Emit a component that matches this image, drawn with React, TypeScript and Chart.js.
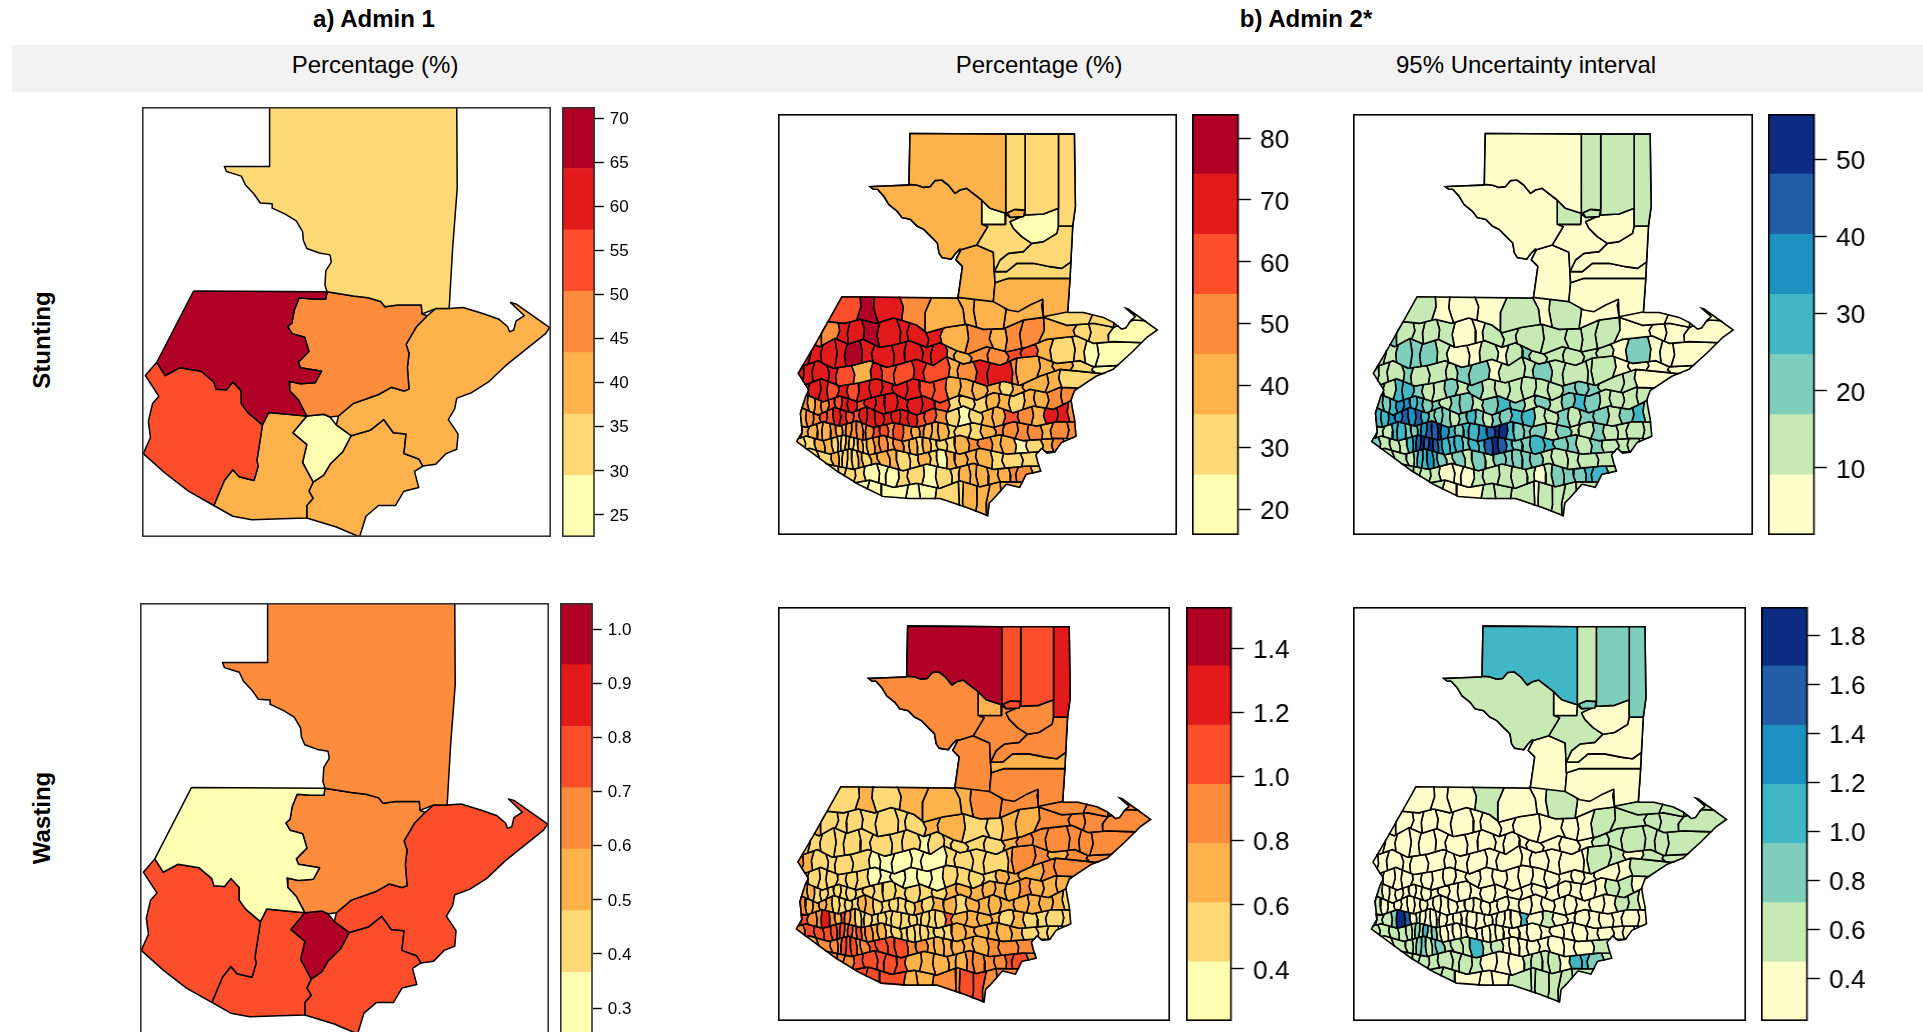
import React, { useEffect, useRef } from "react";
import { Chart, registerables } from "chart.js";
Chart.register(...registerables);

const ylOrRd = ["#FFFFB2", "#FED976", "#FEB24C", "#FD8D3C", "#FC4E2A", "#E31A1C", "#B10026"];
const ylGnBu = ["#FFFFCC", "#C7E9B4", "#7FCDBB", "#41B6C4", "#1D91C0", "#225EA8", "#0C2C84"];

// ---------- legends ----------
const breaksStuntA1 = [22.5, 29.47, 36.43, 43.4, 50.36, 57.33, 64.29, 71.26];
const breaksWasteA1 = [0.252, 0.366, 0.48, 0.594, 0.707, 0.821, 0.935, 1.049];
const breaksStuntPct = [15.85, 25.57, 35.3, 45.02, 54.74, 64.46, 74.18, 83.9];
const breaksStuntUI = [1.31, 9.11, 16.91, 24.71, 32.5, 40.3, 48.1, 55.9];
const breaksWastePct = [0.2375, 0.422, 0.607, 0.792, 0.976, 1.161, 1.346, 1.53];
const breaksWasteUI = [0.227, 0.468, 0.71, 0.951, 1.192, 1.433, 1.675, 1.916];
const ticksStuntA1 = [70, 65, 60, 55, 50, 45, 40, 35, 30, 25];
const ticksWasteA1 = [1.0, 0.9, 0.8, 0.7, 0.6, 0.5, 0.4, 0.3];
const ticksStuntPct = [80, 70, 60, 50, 40, 30, 20];
const ticksStuntUI = [50, 40, 30, 20, 10];
const ticksWastePct = [1.4, 1.2, 1.0, 0.8, 0.6, 0.4];
const ticksWasteUI = [1.8, 1.6, 1.4, 1.2, 1.0, 0.8, 0.6, 0.4];

// ---------- Admin 1 regions (map units) ----------
const a1Names = ["Norte", "Noroccidente", "Suroccidente", "Verapaz", "Nororiente", "Central", "Metropolitana", "Suroriente"];
const a1Shapes = [
  [642,302,1085,302,1086,530,1075,700,1067,865,1035,865,1003,880,1001,855,945,855,915,860,905,845,875,835,840,830,778,818,773,800,775,760,788,735,785,715,760,710,730,697,722,675,720,650,705,620,680,602,650,585,648,572,620,570,605,545,585,520,575,495,556,488,540,482,535,468,642,468],
  [462,816,778,818,775,838,745,838,712,835,700,870,695,905,685,915,695,935,725,945,735,985,710,1015,715,1030,765,1040,750,1072,715,1075,688,1068,690,1095,710,1120,730,1165,640,1155,625,1190,590,1155,575,1130,575,1095,555,1070,540,1092,515,1090,510,1070,480,1040,430,1030,395,1052,375,1015],
  [375,1015,395,1052,430,1030,480,1040,510,1070,515,1090,540,1092,555,1070,575,1095,575,1130,590,1155,625,1190,612,1290,615,1305,605,1345,570,1335,555,1315,535,1345,510,1415,450,1375,395,1325,343,1270,360,1225,355,1180,365,1130,380,1110,348,1052],
  [778,818,840,830,875,835,905,845,915,860,945,855,1001,855,1003,880,1015,885,990,915,965,965,972,990,968,1030,972,1090,960,1095,930,1085,900,1105,840,1130,805,1165,785,1168,770,1160,730,1165,710,1120,690,1095,688,1068,715,1075,750,1072,765,1040,715,1030,710,1015,735,985,725,945,695,935,685,915,695,905,700,870,712,835,745,838,775,838],
  [1067,865,1100,862,1150,880,1185,895,1205,915,1210,930,1220,925,1225,900,1245,885,1212,848,1225,852,1305,918,1295,935,1205,1020,1160,1070,1120,1100,1085,1115,1080,1145,1065,1175,1088,1215,1085,1258,1060,1270,1035,1300,1005,1305,995,1285,960,1270,965,1215,935,1212,912,1175,880,1205,835,1220,800,1190,805,1165,840,1130,900,1105,930,1085,960,1095,972,1090,968,1030,972,990,965,965,990,915,1015,885,1035,865],
  [640,1155,730,1165,697,1212,730,1245,720,1295,745,1350,735,1375,745,1395,730,1415,730,1450,670,1452,600,1455,555,1445,510,1415,535,1345,555,1315,570,1335,605,1345,615,1305,612,1290,625,1190],
  [730,1165,770,1160,785,1168,800,1190,835,1220,815,1265,785,1300,770,1330,745,1350,720,1295,730,1245,697,1212],
  [835,1220,880,1205,912,1175,935,1212,965,1215,960,1270,995,1285,1005,1305,985,1320,995,1365,960,1375,940,1415,900,1415,870,1445,855,1503,800,1475,730,1450,730,1415,745,1395,735,1375,745,1350,770,1330,785,1300,815,1265],
];
const a1Stunting = [1, 6, 4, 3, 2, 2, 0, 2];
const a1Wasting = [3, 0, 4, 3, 4, 4, 6, 4];

// ---------- Admin 2: country outline and northern municipalities (map units) ----------
const countryOutline = [448,128,737,130,945,130,948,350,940,408,932,565,925,665,970,665,1030,680,1060,695,1085,715,1095,712,1112,688,1122,680,1088,650,1105,655,1195,720,1160,745,1115,790,1060,840,1010,860,945,903,935,930,940,960,945,985,950,1040,905,1060,885,1088,860,1092,845,1078,830,1095,835,1115,845,1145,800,1155,780,1195,740,1185,705,1225,690,1240,685,1280,620,1255,540,1228,450,1228,370,1222,300,1188,230,1145,108,1055,125,1025,120,970,135,920,145,900,113,850,160,770,205,690,245,618,592,622,605,530,585,510,600,480,590,490,575,510,545,505,535,490,530,460,510,440,490,420,470,410,450,390,425,385,410,365,385,345,370,320,352,300,340,300,325,288,445,283];
const petenShapes = [
  [448,128,737,130,737,370,690,355,665,330,620,295,600,300,585,310,565,285,545,270,525,272,510,290,490,292,470,285,445,283],
  [325,288,445,283,470,285,490,292,510,290,525,272,545,270,565,285,585,310,600,300,620,295,665,330,665,403,683,410,650,465,600,480,590,490,575,510,545,505,535,490,530,460,510,440,490,420,470,410,450,390,425,385,410,365,385,345,370,320,352,300,340,300],
  [665,330,690,355,737,370,735,403,665,403],
  [737,130,795,130,795,360,765,358,742,368,737,370],
  [795,130,895,130,895,355,850,372,795,375,795,360],
  [895,130,945,130,948,350,940,408,895,408],
  [742,368,765,358,795,362,790,380,750,382],
  [750,395,795,375,850,372,895,355,895,408,890,430,850,455,815,460,785,440,760,415],
  [665,403,735,403,737,372,750,382,790,380,795,375,750,395,760,415,785,440,815,460,790,485,745,490,720,510,703,545,700,487,650,465,683,410],
  [895,408,940,408,933,515,905,535,870,530,820,520,770,520,740,545,703,545,720,510,745,490,790,485,815,460,850,455,890,430],
  [770,520,820,520,870,530,905,535,933,515,932,565,745,565,705,578,703,545,740,545],
  [705,578,745,565,932,565,925,665,850,680,848,628,810,645,775,665,745,660,700,635],
  [600,480,650,465,700,487,703,545,705,578,700,635,592,622,605,530,585,510],
];
const petenStuntPct = [2, 2, 0, 1, 1, 1, 2, 0, 1, 1, 1, 2, 2];
const petenStuntUI = [0, 0, 1, 1, 1, 1, 1, 0, 0, 0, 0, 0, 0];
const petenWastePct = [6, 3, 2, 4, 4, 5, 4, 3, 3, 3, 2, 3, 3];
const petenWasteUI = [3, 1, 0, 1, 2, 2, 2, 0, 1, 0, 0, 0, 0];

// ---------- Admin 2: rows of southern municipalities (map units) ----------
const rowEdges = [
  [90,610,1210,610],
  [90,700,160,712,205,695,255,700,300,688,350,700,400,684,430,692,470,705,500,728,560,712,620,703,670,718,730,716,790,690,850,682,920,706,1000,700,1060,712,1120,690,1210,695],
  [90,765,130,748,180,770,225,745,265,762,310,748,360,772,400,765,450,752,500,772,540,758,590,782,625,792,680,770,740,785,800,772,860,748,950,738,1000,760,1060,755,1210,760],
  [90,815,130,828,175,812,220,835,280,826,330,812,380,832,420,822,470,808,520,826,560,800,610,822,660,810,720,826,770,804,830,798,890,820,960,812,1000,830,1210,820],
  [90,868,135,885,185,866,240,888,300,878,350,866,410,886,460,866,510,878,570,860,620,868,680,888,730,874,780,886,840,858,900,838,940,842,1210,870],
  [90,925,135,912,190,935,240,918,295,935,345,920,400,908,440,930,490,918,540,938,600,915,650,930,700,908,760,918,810,898,860,908,900,892,1210,905],
  [90,970,130,955,175,975,225,952,275,968,320,950,370,972,425,958,470,975,520,955,565,965,610,948,660,968,710,950,760,968,820,948,880,958,940,928,1210,940],
  [90,1000,140,1012,190,995,240,1008,290,992,340,1012,400,998,470,1012,530,995,590,1010,640,998,700,1012,760,995,830,1008,890,995,1210,1000],
  [90,1052,140,1038,190,1052,250,1035,310,1050,370,1036,430,1054,480,1040,540,1052,600,1036,650,1050,720,1034,790,1052,880,1045,1210,1050],
  [90,1090,150,1075,210,1092,270,1076,330,1094,400,1078,470,1095,540,1078,600,1092,660,1075,740,1092,840,1085,1210,1090],
  [90,1130,200,1122,280,1138,350,1120,430,1142,500,1122,570,1138,640,1120,700,1138,800,1128,1210,1130],
  [90,1180,250,1185,330,1170,400,1192,470,1180,540,1195,600,1172,660,1190,720,1175,1210,1180],
  [90,1300,1210,1300],
];
const rowTops = [
  [200,300,345,415,520,585,645,725,855,1000,1085,1200],
  [150,195,235,270,305,360,410,450,495,550,620,695,735,790,850,950,985,1060,1210],
  [110,150,190,225,262,300,345,395,440,480,520,555,590,625,690,735,790,825,880,935,980,1010,1210],
  [100,130,165,200,235,275,340,360,410,455,500,560,600,640,690,750,770,835,880,935,1000,1210],
  [100,125,150,180,205,235,265,295,330,365,400,440,480,520,560,600,640,680,720,755,790,860,900,1210],
  [100,125,145,165,185,205,225,245,265,290,315,345,375,410,445,485,525,565,600,640,680,715,750,790,825,860,905,950],
  [100,120,140,160,180,200,220,240,260,280,300,320,345,370,395,420,445,470,495,525,560,595,630,665,700,730,775,815,855,890,925,955],
  [100,125,150,170,190,210,228,245,260,275,290,305,320,340,360,380,405,430,455,475,495,515,535,560,590,630,665,700,735,770,805,840,880,920,960],
  [95,130,165,190,215,232,246,258,270,282,294,306,320,338,358,378,400,425,448,468,488,508,530,555,585,620,655,690,725,760,800,840,880,910],
  [120,170,215,235,250,263,276,290,305,325,350,380,410,445,475,505,530,555,585,615,650,690,730,780,840,880],
  [180,235,260,285,315,350,385,415,445,490,530,570,600,625,650,680,715,745,775,810,860],
  [230,290,330,365,445,475,530,595,610,650,690,720,800],
];
const rowBottoms = [
  [180,290,355,425,495,615,650,730,850,985,1060,1200],
  [140,185,230,265,310,358,420,445,500,545,615,700,735,785,835,945,985,1045,1210],
  [105,145,185,225,258,305,340,400,435,485,515,560,585,630,685,740,785,830,875,940,975,1005,1210],
  [100,125,160,205,230,280,335,365,405,460,495,565,595,645,685,755,775,830,885,930,1005,1210],
  [100,120,148,175,205,230,268,290,335,360,405,435,485,515,565,595,645,675,725,750,795,855,905,1210],
  [100,122,148,162,188,202,228,242,268,288,318,342,378,408,448,482,528,562,603,638,683,712,753,788,828,858,908,950],
  [100,118,143,158,184,198,224,238,263,278,304,318,349,368,399,418,449,468,499,523,564,593,634,663,704,728,779,813,859,888,929,955],
  [100,122,146,172,188,212,232,248,258,271,292,309,318,336,362,384,401,426,459,479,491,511,539,564,586,625,670,705,730,765,810,845,875,920,960],
  [95,135,170,195,222,234,243,254,267,279,296,310,326,345,364,384,406,431,452,472,492,512,535,560,590,625,660,695,730,765,805,845,880,910],
  [120,175,222,237,247,260,280,296,312,335,362,390,418,450,480,510,535,560,590,620,655,695,735,785,845,880],
  [180,225,252,280,318,356,378,408,450,486,535,575,597,630,655,684,720,750,770,815,860],
  [230,265,305,350,440,480,530,590,615,640,680,720,800],
];
const rowKinks = [
  [0,8,-9,10,-12,9,-7,10,-8,12,-10,0],
  [0,-6,7,-5,6,-8,7,-6,9,-7,8,-10,6,-9,10,-8,7,-9,0],
  [0,6,-5,7,-6,5,-8,6,-5,7,-6,5,-7,8,-6,9,-7,6,-8,7,-6,8,0],
  [0,5,-6,6,-5,7,-6,5,-7,6,-8,7,-6,8,-7,5,-6,8,-7,6,-8,0],
  [0,5,-5,6,-4,5,-6,5,-5,6,-7,6,-5,7,-6,5,-7,6,-5,7,-6,8,-7,0],
  [0,4,-4,3,-4,5,-3,4,-5,4,-5,6,-4,5,-6,5,-4,6,-5,6,-4,5,-6,5,-6,7,-5,0],
  [0,3,-4,3,-3,4,-3,4,-4,3,-5,4,-3,5,-4,3,-5,4,-5,6,-4,5,-6,5,-6,7,-5,6,-7,5,-6,0],
  [0,4,-5,3,-3,2,-3,2,-2,3,-2,3,-3,4,-3,4,-4,3,-4,3,-3,4,-4,5,-6,5,-7,6,-5,7,-6,5,-7,6,0],
  [0,5,-4,3,-3,2,-2,2,-2,2,-2,2,-3,3,-4,3,-4,4,-3,3,-3,4,-4,5,-5,6,-6,5,-7,6,-5,7,-6,0],
  [0,6,-5,2,-2,2,-3,3,-3,4,-4,5,-5,4,-4,5,-3,4,-5,6,-6,5,-7,6,-7,0],
  [0,6,-4,5,-5,6,-5,6,-6,5,-6,4,-3,4,-5,4,-5,4,-6,7,0],
  [0,8,-7,6,-8,6,-7,5,-5,6,-7,5,0],
];
// Colour class (0-6) of every municipality, row by row
const rowsStuntPct = [
  [4,6,5,3,2,2,2,2,1,1,0],
  [3,3,5,5,6,5,5,5,5,2,3,2,3,3,2,1,1,0],
  [5,5,5,5,6,5,5,5,5,5,5,2,2,3,3,4,4,2,1,1,0,0],
  [5,5,5,5,4,2,5,4,4,5,4,2,3,5,5,3,2,2,2,1,0],
  [3,4,5,5,4,5,4,5,5,5,5,5,4,4,2,2,2,2,1,2,2,2,1],
  [3,3,2,3,3,4,4,5,5,4,5,5,5,5,5,5,4,1,1,1,2,2,1,2,2,3,3],
  [2,2,3,3,4,4,5,5,4,4,5,5,5,5,5,5,5,4,4,3,1,0,1,2,2,4,3,2,5,5,3],
  [1,2,2,2,2,3,2,2,3,3,3,3,3,4,4,3,4,3,2,3,2,2,2,1,1,1,2,3,3,3,3,2,3,3],
  [1,1,2,2,1,1,1,2,1,1,2,1,2,3,3,2,3,2,2,1,2,1,1,1,2,3,3,2,2,0,1,2,3],
  [1,1,2,1,1,1,1,2,1,2,2,2,1,1,2,1,0,2,2,2,2,1,1,1,1],
  [1,1,1,1,0,0,0,1,1,0,1,1,2,2,2,2,2,3,3,1],
  [1,0,0,0,0,0,1,1,2,2,2,2],
];
const rowsStuntUI = [
  [1,0,0,0,1,0,1,0,0,0,0],
  [2,1,1,1,1,0,0,1,1,1,1,1,1,1,0,0,0,0],
  [1,1,2,2,2,1,0,0,1,0,1,2,1,1,1,1,1,0,2,0,0,0],
  [1,1,1,2,1,1,1,2,2,0,1,1,2,1,1,1,1,0,0,0,0],
  [2,2,1,3,3,2,1,1,2,1,2,1,1,1,1,1,1,2,2,2,1,1,0],
  [2,2,2,3,4,4,3,3,2,2,1,2,2,1,2,3,2,1,2,1,2,3,2,1,1,1,1],
  [2,3,3,4,4,5,4,5,3,2,2,2,1,2,3,2,1,2,2,3,3,1,1,2,1,2,2,1,2,3,1],
  [2,1,1,3,3,2,2,3,4,5,5,6,4,3,2,3,3,4,5,6,6,3,2,2,2,1,2,1,1,2,1,1,1,1],
  [2,1,1,1,3,4,5,6,5,6,5,4,3,3,3,2,3,3,5,6,5,3,2,2,3,3,2,2,1,2,1,1,1],
  [1,1,1,2,3,3,4,3,2,1,2,1,2,1,2,2,2,2,2,1,1,1,1,1,1],
  [1,1,1,1,0,0,0,1,1,1,1,1,0,1,2,2,2,3,3,1],
  [1,1,0,0,1,1,1,0,1,1,1,1],
];
const rowsWastePct = [
  [1,2,1,2,2,2,3,3,3,3,3],
  [2,1,1,1,1,1,1,1,2,2,1,1,2,2,3,3,3,3],
  [1,1,1,1,1,1,1,1,1,0,1,1,1,1,1,2,3,3,3,3,3,3],
  [3,2,1,1,1,1,0,0,0,0,0,1,1,1,1,2,3,3,2,3,3],
  [2,1,1,1,1,1,1,1,0,0,0,0,0,0,1,1,1,1,2,2,2,3,3],
  [3,2,2,1,1,1,1,1,1,1,1,1,1,1,1,1,1,2,2,2,2,2,2,3,2,2,2],
  [2,3,2,2,2,2,1,1,1,1,2,2,1,1,1,1,1,2,1,2,2,1,2,2,2,2,2,2,2,2,1],
  [4,4,3,3,5,3,2,4,3,2,1,1,1,1,1,1,1,1,1,1,1,1,1,4,2,2,2,2,1,2,1,1,1,1],
  [3,4,4,4,4,4,4,3,4,3,4,3,3,2,2,1,1,1,1,1,1,1,1,1,2,2,2,2,2,2,1,1,1],
  [2,3,3,3,4,4,4,3,3,4,4,4,4,3,3,2,2,2,2,2,2,3,3,3,3],
  [3,3,3,4,4,4,4,4,2,2,2,2,2,3,3,3,3,4,4,3],
  [3,4,4,4,2,2,3,3,4,4,3,3],
];
const rowsWasteUI = [
  [0,0,0,1,0,0,1,0,1,1,1],
  [0,0,0,0,0,0,0,0,0,0,0,0,0,1,1,1,1,1],
  [0,0,0,0,0,0,0,0,0,0,0,0,0,0,0,0,1,1,1,1,1,1],
  [0,0,0,0,0,0,0,0,0,0,0,0,0,0,0,0,1,1,0,1,1],
  [1,0,0,0,0,0,0,0,0,0,0,0,0,0,0,0,0,0,0,0,0,0,1],
  [1,1,0,0,0,0,0,0,0,0,0,0,0,0,0,0,0,0,0,0,0,0,0,0,1,1,0],
  [1,1,0,0,0,0,0,0,0,0,0,0,0,0,0,0,0,0,0,0,0,0,0,0,0,0,0,0,1,1,0],
  [3,1,1,2,6,5,0,0,0,0,0,0,0,0,0,0,0,0,0,0,0,0,0,3,0,1,0,0,0,0,0,0,0,0],
  [1,1,1,1,1,1,2,1,3,1,2,1,0,0,0,0,0,0,0,0,0,0,0,0,0,0,0,0,0,0,0,0,0],
  [0,1,1,1,2,2,1,2,2,1,1,1,3,1,1,0,0,0,0,0,0,0,0,1,1],
  [1,1,1,1,1,1,1,1,0,0,0,1,1,1,1,0,3,3,2,1],
  [1,1,1,0,0,0,1,1,1,1,1,1],
];

// ---------- helpers ----------
const toPoints = (flat: number[]) => {
  const out: { x: number; y: number }[] = [];
  for (let i = 0; i < flat.length; i += 2) out.push({ x: flat[i], y: flat[i + 1] });
  return out;
};
const closed = (pts: { x: number; y: number }[]) => [...pts, pts[0]];
const yOn = (pts: { x: number; y: number }[], x: number) => {
  for (let i = 0; i < pts.length - 1; i++) {
    if (x <= pts[i + 1].x) return pts[i].y + ((x - pts[i].x) / (pts[i + 1].x - pts[i].x)) * (pts[i + 1].y - pts[i].y);
  }
  return pts[pts.length - 1].y;
};
const rowCell = (r: number, c: number) => {
  const top = toPoints(rowEdges[r]);
  const bot = toPoints(rowEdges[r + 1]);
  const xa = rowTops[r][c], xb = rowTops[r][c + 1], xc = rowBottoms[r][c + 1], xd = rowBottoms[r][c];
  const yB1 = yOn(top, xb), yB2 = yOn(bot, xc), yA1 = yOn(top, xa), yA2 = yOn(bot, xd);
  return closed([
    { x: xa, y: yA1 },
    ...top.filter((p) => p.x > xa && p.x < xb),
    { x: xb, y: yB1 },
    { x: (xb + xc) / 2 + rowKinks[r][c + 1], y: (yB1 + yB2) / 2 },
    { x: xc, y: yB2 },
    ...bot.filter((p) => p.x > xd && p.x < xc).reverse(),
    { x: xd, y: yA2 },
    { x: (xa + xd) / 2 + rowKinks[r][c], y: (yA1 + yA2) / 2 },
  ]);
};

const polyDataset = (data: any[], fill: string | null, lineWidth: number) => ({
  data,
  showLine: true,
  pointRadius: 0,
  tension: 0,
  borderColor: "#000",
  borderWidth: lineWidth,
  borderJoinStyle: "round",
  backgroundColor: fill ?? "transparent",
  fill: fill ? "shape" : false,
});

const frame = (color: string, width: number) => ({
  id: "frame",
  afterDraw(chart: any) {
    const { ctx, chartArea: a } = chart;
    ctx.save();
    ctx.strokeStyle = color;
    ctx.lineWidth = width;
    ctx.strokeRect(a.left + width / 2, a.top + width / 2, a.right - a.left - width, a.bottom - a.top - width);
    ctx.restore();
  },
});

const outlineClip = {
  id: "outlineClip",
  beforeDatasetsDraw(chart: any) {
    const { ctx, scales } = chart;
    const pts = toPoints(countryOutline);
    ctx.save();
    ctx.beginPath();
    pts.forEach((p, i) => {
      const x = scales.x.getPixelForValue(p.x), y = scales.y.getPixelForValue(p.y);
      if (i) ctx.lineTo(x, y); else ctx.moveTo(x, y);
    });
    ctx.closePath();
    ctx.clip();
  },
  afterDatasetsDraw(chart: any) {
    chart.ctx.restore();
  },
};

function MapPanel({ left, top, width, height, datasets, xRange, yRange, clip, frameColor }: any) {
  const ref = useRef<HTMLCanvasElement>(null);
  useEffect(() => {
    const chart = new Chart(ref.current as HTMLCanvasElement, {
      type: "scatter",
      data: { datasets },
      options: {
        animation: false,
        responsive: false,
        events: [],
        layout: { padding: 0 },
        plugins: { legend: { display: false }, tooltip: { enabled: false } },
        scales: {
          x: { type: "linear", display: false, min: xRange[0], max: xRange[1] },
          y: { type: "linear", display: false, reverse: true, min: yRange[0], max: yRange[1] },
        },
      },
      plugins: [...(clip ? [outlineClip] : []), frame(frameColor, 1.6)],
    } as any);
    return () => chart.destroy();
  }, []);
  return <canvas ref={ref} width={width} height={height} style={{ position: "absolute", left, top, width, height }} />;
}

function ColorBar({ left, top, barWidth, height, breaks, palette, ticks, decimals, fontSize, tickLength, frameColor, labelOffset }: any) {
  const ref = useRef<HTMLCanvasElement>(null);
  const axisWidth = tickLength + fontSize * 2.6;
  useEffect(() => {
    const chart = new Chart(ref.current as HTMLCanvasElement, {
      type: "bar",
      data: {
        labels: [""],
        datasets: palette.map((c: string, i: number) => ({
          data: [[breaks[i], breaks[i + 1]]],
          backgroundColor: c,
          borderWidth: 0,
          grouped: false,
          barPercentage: 1,
          categoryPercentage: 1,
        })),
      },
      options: {
        animation: false,
        responsive: false,
        events: [],
        layout: { padding: 0 },
        plugins: { legend: { display: false }, tooltip: { enabled: false } },
        scales: {
          x: { display: false },
          y: {
            position: "right",
            min: breaks[0],
            max: breaks[breaks.length - 1],
            border: { display: false },
            grid: { drawOnChartArea: false, drawTicks: true, tickLength, tickColor: "#000", tickWidth: 1.4 },
            ticks: {
              color: "#000",
              padding: fontSize * 0.35,
              autoSkip: false,
              maxRotation: 0,
              labelOffset,
              font: { family: "'Liberation Sans'", size: fontSize },
              callback: (v: number) => v.toFixed(decimals),
            },
            afterBuildTicks: (axis: any) => {
              axis.ticks = ticks.map((value: number) => ({ value }));
            },
            afterFit: (axis: any) => {
              axis.width = axisWidth;
              axis.paddingTop = 0;
              axis.paddingBottom = 0;
            },
          },
        },
      },
      plugins: [frame(frameColor, 1.6)],
    } as any);
    return () => chart.destroy();
  }, []);
  const width = barWidth + axisWidth;
  return <canvas ref={ref} width={width} height={height} style={{ position: "absolute", left, top, width, height }} />;
}

const a1Datasets = (bands: number[]) =>
  a1Shapes.map((s, i) => polyDataset(closed(toPoints(s)), ylOrRd[bands[i]], 1.5));

const a2Datasets = (peten: number[], rows: number[][], palette: string[]) => {
  const sets: any[] = [polyDataset(closed(toPoints(countryOutline)), null, 3.2)];
  petenShapes.forEach((s, i) => sets.push(polyDataset(closed(toPoints(s)), palette[peten[i]], 1.6)));
  rows.forEach((row, r) =>
    row.forEach((band, c) => sets.push(polyDataset(rowCell(r, c), palette[band], 1.6)))
  );
  return sets;
};

const a1X = [340, 1308], a1Y = [302, 1503];
const a2X = [55, 1250], a2Y = [72, 1335];

function Label({ x, y, text, bold, rotate }: any) {
  return (
    <div
      style={{
        position: "absolute",
        left: x,
        top: y,
        transform: `translate(-50%,-50%)${rotate ? " rotate(-90deg)" : ""}`,
        whiteSpace: "nowrap",
        font: `${bold ? "bold " : ""}24px 'Liberation Sans'`,
        color: "#000",
      }}
    >
      {text}
    </div>
  );
}

export default function App() {
  return (
    <div style={{ position: "fixed", inset: 0, width: 1923, height: 1032, overflow: "hidden", background: "#fff" }}>
      <div style={{ position: "absolute", left: 12, top: 45, width: 1911, height: 47, background: "#F2F2F2" }} />
      <Label x={374} y={19} text="a) Admin 1" bold />
      <Label x={1306} y={19} text="b) Admin 2*" bold />
      <Label x={375} y={65} text="Percentage (%)" />
      <Label x={1039} y={65} text="Percentage (%)" />
      <Label x={1526} y={65} text="95% Uncertainty interval" />
      <Label x={42} y={340} text="Stunting" bold rotate />
      <Label x={42} y={818} text="Wasting" bold rotate />

      <MapPanel left={142} top={107} width={409} height={430} datasets={a1Datasets(a1Stunting)} xRange={a1X} yRange={a1Y} frameColor="#333" />
      <ColorBar left={562} top={107} barWidth={33} height={430} breaks={breaksStuntA1} palette={ylOrRd} ticks={ticksStuntA1} decimals={0} fontSize={17} tickLength={9} frameColor="#333" labelOffset={1} />

      <MapPanel left={140} top={603} width={409} height={431} datasets={a1Datasets(a1Wasting)} xRange={a1X} yRange={a1Y} frameColor="#333" />
      <ColorBar left={560} top={603} barWidth={33} height={431} breaks={breaksWasteA1} palette={ylOrRd} ticks={ticksWasteA1} decimals={1} fontSize={17} tickLength={9} frameColor="#333" labelOffset={1} />

      <MapPanel left={778} top={114} width={399} height={421} datasets={a2Datasets(petenStuntPct, rowsStuntPct, ylOrRd)} xRange={a2X} yRange={a2Y} clip frameColor="#000" />
      <ColorBar left={1192} top={114} barWidth={47} height={421} breaks={breaksStuntPct} palette={ylOrRd} ticks={ticksStuntPct} decimals={0} fontSize={26} tickLength={12} frameColor="#000" labelOffset={2.5} />

      <MapPanel left={1353} top={114} width={400} height={421} datasets={a2Datasets(petenStuntUI, rowsStuntUI, ylGnBu)} xRange={a2X} yRange={a2Y} clip frameColor="#000" />
      <ColorBar left={1768} top={114} barWidth={47} height={421} breaks={breaksStuntUI} palette={ylGnBu} ticks={ticksStuntUI} decimals={0} fontSize={26} tickLength={12} frameColor="#000" labelOffset={2.5} />

      <MapPanel left={778} top={607} width={392} height={414} datasets={a2Datasets(petenWastePct, rowsWastePct, ylOrRd)} xRange={a2X} yRange={a2Y} clip frameColor="#000" />
      <ColorBar left={1186} top={607} barWidth={46} height={414} breaks={breaksWastePct} palette={ylOrRd} ticks={ticksWastePct} decimals={1} fontSize={26} tickLength={12} frameColor="#000" labelOffset={2.5} />

      <MapPanel left={1353} top={607} width={393} height={414} datasets={a2Datasets(petenWasteUI, rowsWasteUI, ylGnBu)} xRange={a2X} yRange={a2Y} clip frameColor="#000" />
      <ColorBar left={1761} top={607} barWidth={47} height={414} breaks={breaksWasteUI} palette={ylGnBu} ticks={ticksWasteUI} decimals={1} fontSize={26} tickLength={12} frameColor="#000" labelOffset={2.5} />
    </div>
  );
}
